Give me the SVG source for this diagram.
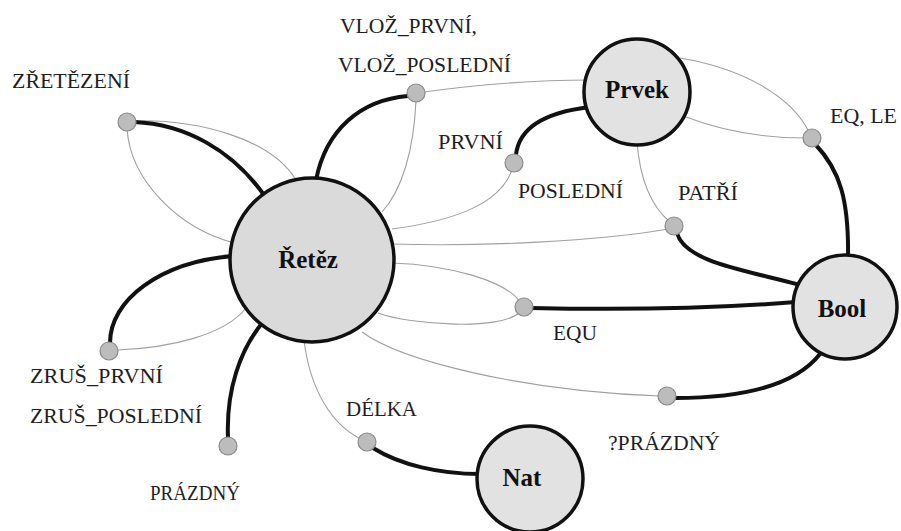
<svg xmlns="http://www.w3.org/2000/svg" width="901" height="531" viewBox="0 0 901 531">
<style>
.thin{fill:none;stroke:#a0a0a0;stroke-width:1.1}
.thick{fill:none;stroke:#111;stroke-width:4;stroke-linecap:round}
.node{fill:#e2e2e2;stroke:#111;stroke-width:3.5}
.dot{fill:#bcbcbc;stroke:#8a8a8a;stroke-width:1.2}
.lbl{font-size:21px;fill:#1e1e1e}
.name{font-size:25px;font-weight:bold;fill:#111;text-anchor:middle}
</style>
<rect width="901" height="531" fill="#ffffff"/>
<g id="connectors">
<path class="thin" d="M128,121 C200,118 272,140 296,180"/>
<path class="thin" d="M127,128 C130,180 178,228 234,243"/>
<path class="thick" d="M134,122 C185,124 232,150 264,195"/>
<path class="thin" d="M416,93 C480,84 540,80 590,80"/>
<path class="thin" d="M416,100 C414,150 402,190 382,212"/>
<path class="thick" d="M408,96 C360,100 326,130 316,180"/>
<path class="thin" d="M512,170 C500,202 460,220 392,229"/>
<path class="thick" d="M516,155 C519,126 548,112 590,107"/>
<path class="thin" d="M637,142 C640,180 652,207 670,222"/>
<path class="thin" d="M392,244 C480,247 600,241 668,229"/>
<path class="thick" d="M677,233 C685,262 745,270 800,285"/>
<path class="thin" d="M680,58 C740,68 792,95 810,134"/>
<path class="thin" d="M686,117 C720,130 760,138 806,138"/>
<path class="thick" d="M815,144 C840,170 849,200 848,258"/>
<path class="thin" d="M392,263 C450,265 506,281 520,302"/>
<path class="thin" d="M378,313 C410,325 502,331 520,312"/>
<path class="thick" d="M531,308 C620,310 720,308 796,302"/>
<path class="thin" d="M362,332 C400,360 520,391 660,396"/>
<path class="thick" d="M675,398 C740,398 795,386 820,354"/>
<path class="thin" d="M304,340 C310,390 332,425 361,439"/>
<path class="thick" d="M373,448 C400,465 440,474 480,474"/>
<path class="thin" d="M117,350 C170,348 225,335 246,308"/>
<path class="thick" d="M110,343 C110,300 160,262 233,256"/>
<path class="thick" d="M228,438 C226,390 240,350 263,322"/>
</g>
<g font-family="Liberation Serif, Times New Roman, serif">
<g id="node-retez">
<circle class="node" cx="312" cy="260" r="82" style="fill:#dadada"/>
<text class="name" x="308" y="268">Řetěz</text>
</g>
<g id="node-prvek">
<circle class="node" cx="637" cy="92" r="53"/>
<text class="name" x="637" y="98">Prvek</text>
</g>
<g id="node-bool">
<circle class="node" cx="845" cy="307" r="52"/>
<text class="name" x="842" y="317">Bool</text>
</g>
<g id="node-nat">
<circle class="node" cx="530" cy="479" r="53"/>
<text class="name" x="522" y="486">Nat</text>
</g>
<g id="op-zretezeni">
<circle class="dot" cx="127" cy="122" r="9"/>
<text class="lbl" x="12" y="88" textLength="118" lengthAdjust="spacingAndGlyphs">ZŘETĚZENÍ</text>
</g>
<g id="op-vloz">
<circle class="dot" cx="416" cy="93" r="9"/>
<text class="lbl" x="340" y="33" textLength="137" lengthAdjust="spacingAndGlyphs">VLOŽ_PRVNÍ,</text>
<text class="lbl" x="338" y="72" textLength="173" lengthAdjust="spacingAndGlyphs">VLOŽ_POSLEDNÍ</text>
</g>
<g id="op-prvni">
<circle class="dot" cx="514" cy="163" r="9"/>
<text class="lbl" x="438" y="149" textLength="65" lengthAdjust="spacingAndGlyphs">PRVNÍ</text>
<text class="lbl" x="518" y="198" textLength="105" lengthAdjust="spacingAndGlyphs">POSLEDNÍ</text>
</g>
<g id="op-patri">
<circle class="dot" cx="674" cy="226" r="9"/>
<text class="lbl" x="678" y="200" textLength="60" lengthAdjust="spacingAndGlyphs">PATŘÍ</text>
</g>
<g id="op-eqle">
<circle class="dot" cx="812" cy="138" r="9"/>
<text class="lbl" x="830" y="123" textLength="67" lengthAdjust="spacingAndGlyphs">EQ, LE</text>
</g>
<g id="op-equ">
<circle class="dot" cx="524" cy="307" r="9"/>
<text class="lbl" x="553" y="340" textLength="44" lengthAdjust="spacingAndGlyphs">EQU</text>
</g>
<g id="op-isprazdny">
<circle class="dot" cx="667" cy="396" r="9"/>
<text class="lbl" x="608" y="450" textLength="112" lengthAdjust="spacingAndGlyphs">?PRÁZDNÝ</text>
</g>
<g id="op-delka">
<circle class="dot" cx="367" cy="442" r="9"/>
<text class="lbl" x="346" y="416" textLength="71" lengthAdjust="spacingAndGlyphs">DÉLKA</text>
</g>
<g id="op-zrus">
<circle class="dot" cx="109" cy="351" r="9"/>
<text class="lbl" x="30" y="383" textLength="133" lengthAdjust="spacingAndGlyphs">ZRUŠ_PRVNÍ</text>
<text class="lbl" x="30" y="423" textLength="172" lengthAdjust="spacingAndGlyphs">ZRUŠ_POSLEDNÍ</text>
</g>
<g id="op-prazdny">
<circle class="dot" cx="228" cy="446" r="9"/>
<text class="lbl" x="150" y="500" textLength="90" lengthAdjust="spacingAndGlyphs">PRÁZDNÝ</text>
</g>
</g>
</svg>
